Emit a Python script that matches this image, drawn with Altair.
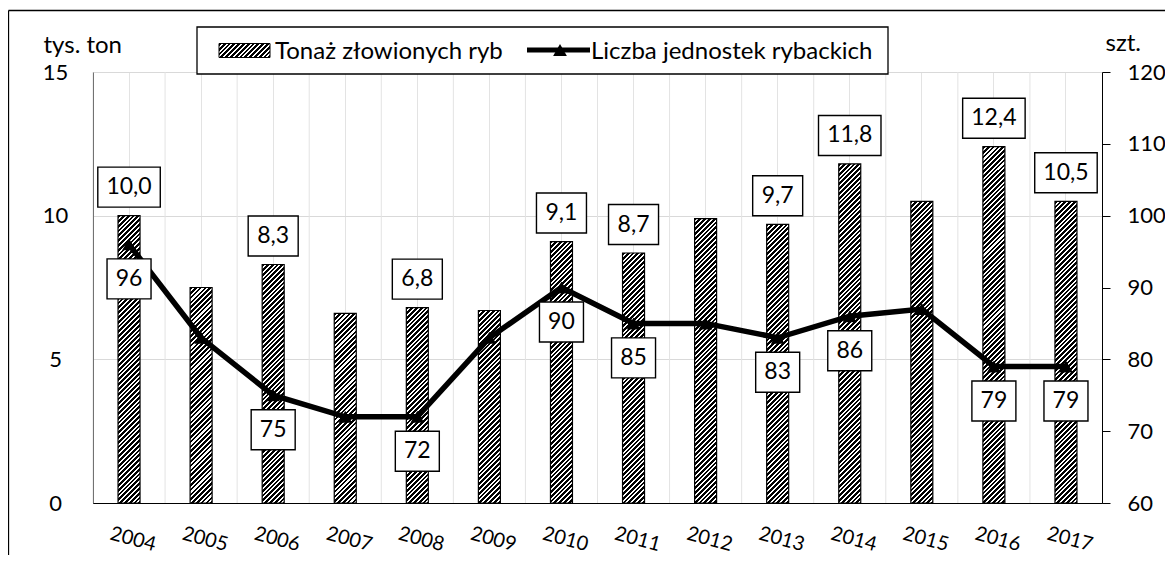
import math
import altair as alt

# ---------------- data ----------------
years = [str(y) for y in range(2004, 2018)]
tonnage = [10.0, 7.5, 8.3, 6.6, 6.8, 6.7, 9.1, 8.7, 9.9, 9.7, 11.8, 10.5, 12.4, 10.5]
units = [96, 83, 75, 72, 72, 83, 90, 85, 85, 83, 86, 87, 79, 79]
tonnage_labelled = ["2004", "2006", "2008", "2010", "2011", "2013", "2014", "2016", "2017"]
units_labelled = ["2004", "2006", "2008", "2010", "2011", "2013", "2014", "2016", "2017"]
series_names = ["Tonaż złowionych ryb", "Liczba jednostek rybackich"]
left_ticks = [0, 5, 10, 15]
right_ticks = [60, 70, 80, 90, 100, 110, 120]

# ---------------- layout ----------------
W, H = 1009, 431
T_MAX = 15
FONT = "Lato"
BAR_W = 22


def hatch(w, h, period=4.8, duty=0.58):
    """Diagonal '/' hatch as a linear gradient in the mark's bounding box."""
    L = w + h
    k = L / (w * w + h * h)
    stops = []
    n = int(math.ceil(L / period))
    for i in range(n):
        a = min(i * period / L, 1)
        b = min((i + duty) * period / L, 1)
        c = min((i + 1) * period / L, 1)
        stops += [
            {"offset": round(a, 5), "color": "black"},
            {"offset": round(b, 5), "color": "black"},
            {"offset": round(b, 5), "color": "white"},
            {"offset": round(c, 5), "color": "white"},
        ]
    return {"gradient": "linear", "x1": 0, "y1": 0,
            "x2": round(k * w, 5), "y2": round(k * h, 5), "stops": stops}


def box_path(label):
    digits = sum(ch.isdigit() for ch in label)
    commas = label.count(",")
    half = (12.5 * digits + 6 * commas + 19) / 2 / 20
    return f"M{-half:.3f},-1H{half:.3f}V1H{-half:.3f}Z"


bar_rows = [{"year": y, "tons": t, "hatch": hatch(BAR_W, t / T_MAX * H)}
            for y, t in zip(years, tonnage)]
bar_label_rows = []
for y, t in zip(years, tonnage):
    if y in tonnage_labelled:
        lab = f"{t:.1f}".replace(".", ",")
        bar_label_rows.append({"year": y, "tons": t, "label": lab, "box": box_path(lab)})
line_rows = [{"year": y, "units": u} for y, u in zip(years, units)]
line_label_rows = []
for y, u in zip(years, units):
    if y in units_labelled:
        lab = str(u)
        line_label_rows.append({"year": y, "units": u, "label": lab, "box": box_path(lab)})

# ---------------- encodings ----------------
x_axis = alt.Axis(title=None, labelAngle=15, labelAlign="center", labelBaseline="middle",
                  labelFont=FONT, labelFontSize=20, labelColor="black", labelPadding=36,
                  labelOffset=4, labelOverlap=False, ticks=False, tickSize=0,
                  domainColor="black", domainWidth=1, grid=True, gridColor="#e3e3e3",
                  gridWidth=1)
xenc = alt.X("year:N", sort=years, scale=alt.Scale(paddingInner=0, paddingOuter=0), axis=x_axis)

y_left = alt.Y("tons:Q", scale=alt.Scale(domain=[0, T_MAX], nice=False, zero=True),
               axis=alt.Axis(values=left_ticks, title="tys. ton", titleAngle=0, titleX=-50,
                             titleY=-20, titleAlign="left", titleBaseline="alphabetic",
                             titleFont=FONT, titleFontSize=24, titleFontWeight="normal",
                             titleColor="black", labelAlign="center", labelBaseline="middle",
                             labelPadding=38, labelFont=FONT, labelFontSize=22,
                             labelColor="black", ticks=False, tickSize=0,
                             domainColor="black", grid=True, gridColor="#d9d9d9",
                             orient="left"))
y_right = alt.Y("units:Q", scale=alt.Scale(domain=[60, 120], nice=False, zero=False),
                axis=alt.Axis(values=right_ticks, title="szt.", titleAngle=0, titleX=3,
                              titleY=-22, titleAlign="left", titleBaseline="alphabetic",
                              titleFont=FONT, titleFontSize=24, titleFontWeight="normal",
                              titleColor="black", labelAlign="left", labelBaseline="middle",
                              labelPadding=17, labelFont=FONT, labelFontSize=22,
                              labelColor="black", ticks=True, tickSize=8, tickColor="black",
                              domainColor="black", grid=False, orient="right"))

# ---------------- left (tonnage) ----------------
band_edges = alt.Chart(alt.Data(values=[{"year": y} for y in years])).mark_rule(
    color="#e3e3e3", strokeWidth=1).encode(x=alt.X("year:N", sort=years, bandPosition=0))

bars = alt.Chart(alt.Data(values=bar_rows)).mark_bar(
    size=BAR_W, stroke="black", strokeWidth=1.2).encode(
    x=xenc, y=y_left, fill=alt.Fill("hatch:N", scale=None))

bar_boxes = alt.Chart(alt.Data(values=bar_label_rows)).mark_point(
    filled=True, fill="white", stroke="black", strokeWidth=1.4, size=1600, opacity=1,
    yOffset=-28.5).encode(x=xenc, y=y_left, shape=alt.Shape("box:N", scale=None))

bar_texts = alt.Chart(alt.Data(values=bar_label_rows)).mark_text(
    font=FONT, fontSize=23, color="black", align="center", baseline="middle",
    yOffset=-28.5).encode(x=xenc, y=y_left, text="label:N")

# ---------------- right (units) ----------------
line = alt.Chart(alt.Data(values=line_rows)).mark_line(
    strokeWidth=5.5, color="black").encode(x=xenc, y=y_right)

tri = alt.Chart(alt.Data(values=line_rows)).mark_point(
    shape="triangle-up", filled=True, color="black", size=190, opacity=1).encode(
    x=xenc, y=y_right)

line_boxes = alt.Chart(alt.Data(values=line_label_rows)).mark_point(
    filled=True, fill="white", stroke="black", strokeWidth=1.4, size=1600, opacity=1,
    yOffset=34.5).encode(x=xenc, y=y_right, shape=alt.Shape("box:N", scale=None))

line_texts = alt.Chart(alt.Data(values=line_label_rows)).mark_text(
    font=FONT, fontSize=23, color="black", align="center", baseline="middle",
    yOffset=34.5).encode(x=xenc, y=y_right, text="label:N")

# ---------------- chart frame (left and top edges) and legend ----------------
one = alt.Data(values=[{}])
frame_left = alt.Chart(one).mark_rule(color="black", strokeWidth=1.3).encode(
    x=alt.value(-84.5), y=alt.value(-61.5), y2=alt.value(H + 60))
frame_top = alt.Chart(one).mark_rule(color="black", strokeWidth=1.3).encode(
    x=alt.value(-84.5), x2=alt.value(W + 80), y=alt.value(-61.5))

leg_box = alt.Chart(one).mark_rect(fill="white", stroke="black", strokeWidth=1.3).encode(
    x=alt.value(104), x2=alt.value(795), y=alt.value(-45), y2=alt.value(2))
leg_sym_a = alt.Chart(one).mark_rect(fill=hatch(51, 14), stroke="black", strokeWidth=1).encode(
    x=alt.value(126), x2=alt.value(177), y=alt.value(-28.5), y2=alt.value(-14.5))
leg_lab_a = alt.Chart(one).mark_text(
    text=series_names[0], font=FONT, fontSize=24, color="black", align="left",
    baseline="alphabetic").encode(x=alt.value(182), y=alt.value(-13))
leg_line_b = alt.Chart(one).mark_rule(color="black", strokeWidth=5).encode(
    x=alt.value(434), x2=alt.value(497), y=alt.value(-22))
leg_tri_b = alt.Chart(one).mark_point(
    shape="triangle-up", filled=True, color="black", size=190, opacity=1).encode(
    x=alt.value(467), y=alt.value(-22))
leg_lab_b = alt.Chart(one).mark_text(
    text=series_names[1], font=FONT, fontSize=24, color="black", align="left",
    baseline="alphabetic").encode(x=alt.value(498), y=alt.value(-13))

left_all = alt.layer(band_edges, bars, bar_boxes, bar_texts)
right_all = alt.layer(line, tri, line_boxes, line_texts)

chart = alt.layer(frame_left, frame_top, left_all, right_all, leg_box, leg_sym_a, leg_lab_a,
                  leg_line_b, leg_tri_b, leg_lab_b).resolve_scale(y="independent").properties(
    width=W, height=H,
    padding={"left": 85, "top": 64, "right": 63, "bottom": 52},
    autosize=alt.AutoSizeParams(type="none"),
).configure_view(strokeWidth=0).configure(font=FONT)

chart.save("out.html", embed_options={"renderer": "svg", "actions": False})
